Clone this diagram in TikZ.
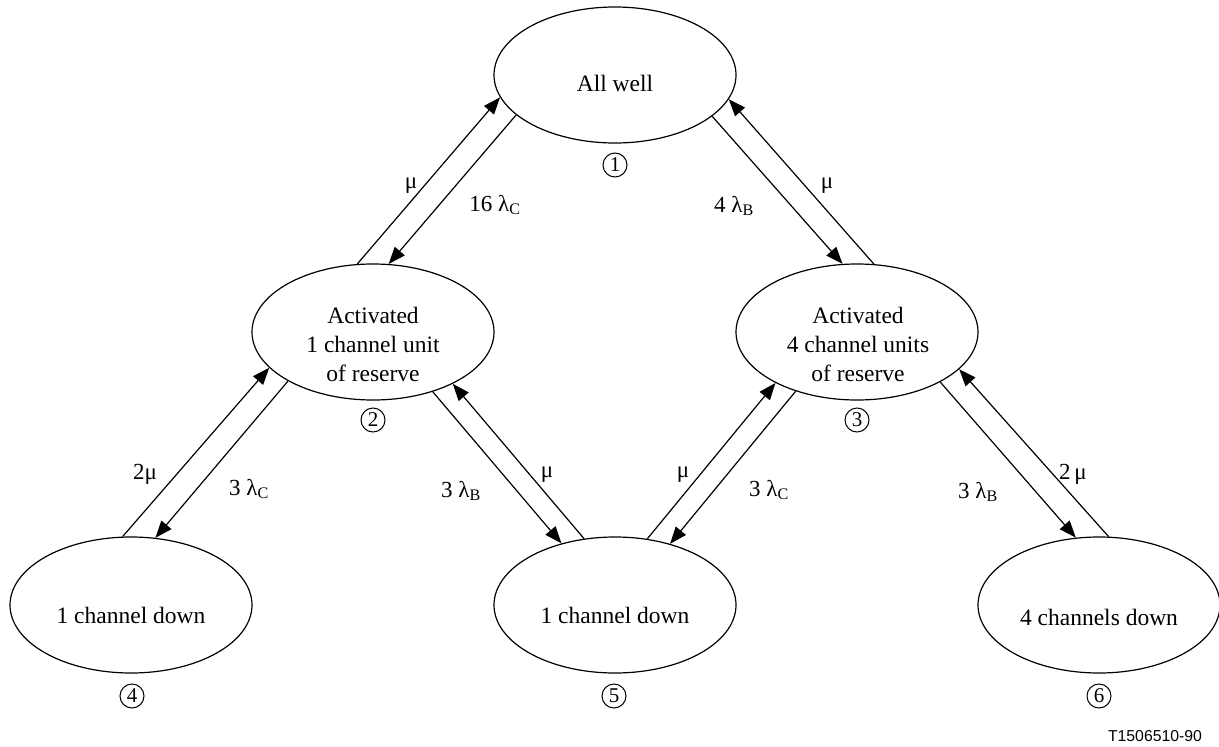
\documentclass[tikz,border=0pt]{standalone}
\usepackage{fontspec}
\setmainfont{Liberation Serif}
\newfontfamily\codefont{Liberation Sans}
\usetikzlibrary{arrows.meta,shapes.geometric}

\begin{document}
\begin{tikzpicture}[x=1pt,y=-1pt,
  state/.style={ellipse, draw, line width=1.2pt, minimum width=242pt, minimum height=136pt, inner sep=0pt},
  stext/.style={align=center, inner sep=0pt, font=\fontsize{23.5pt}{29pt}\selectfont},
  num/.style={circle, draw, line width=1pt, minimum size=24pt, inner sep=0pt, font=\fontsize{21pt}{21pt}\selectfont},
  rate/.style={inner sep=0pt, font=\fontsize{23pt}{23pt}\selectfont},
  arr/.style={line width=1.2pt, -{Triangle[length=17pt,width=13pt]}}
]
\useasboundingbox (0,0) rectangle (1219,747);

% states
\node[state] (s1) at (615,75) {};
\node[state] (s2) at (373,332) {};
\node[state] (s3) at (857,332) {};
\node[state] (s4) at (131,605) {};
\node[state] (s5) at (615,605) {};
\node[state] (s6) at (1099,605) {};

% state texts
\node[stext] (t1) at (615,83) {All well};
\node[stext] (t2) at (373,344) {Activated\\1 channel unit\\of reserve};
\node[stext] (t3) at (858,344) {Activated\\4 channel units\\of reserve};
\node[stext] (t4) at (131,615) {1 channel down};
\node[stext] (t5) at (615,615) {1 channel down};
\node[stext] (t6) at (1099,617) {4 channels down};

% state numbers
\node[num] (n1) at (615,165) {1};
\node[num] (n2) at (373,420) {2};
\node[num] (n3) at (857,420) {3};
\node[num] (n4) at (132,696) {4};
\node[num] (n5) at (614,696) {5};
\node[num] (n6) at (1099,696) {6};

% transitions
\draw[arr] (s2.103.2) -- (s1.191.6);
\draw[arr] (s1.202.3) -- (s2.77.6);
\draw[arr] (s1.337.7) -- (s3.102.4);
\draw[arr] (s3.76.8) -- (s1.348.4);
\draw[arr] (s4.97.5) -- (s2.199.3);
\draw[arr] (s2.210.5) -- (s4.70.6);
\draw[arr] (s2.315.5) -- (s5.131.8);
\draw[arr] (s5.115.5) -- (s2.327.6);
\draw[arr] (s5.64.5) -- (s3.212.4);
\draw[arr] (s3.224.5) -- (s5.48.2);
\draw[arr] (s3.329.5) -- (s6.109.4);
\draw[arr] (s6.82.5) -- (s3.340.7);

% rates
\node[rate] (r12) at (411,186) {μ};
\node[rate] (r21) at (495,205) {16 λ\textsubscript{C}};
\node[rate] (r13) at (734,206) {4 λ\textsubscript{B}};
\node[rate] (r31) at (827,186) {μ};
\node[rate] (r42) at (145,474) {2μ};
\node[rate] (r24) at (249,489) {3 λ\textsubscript{C}};
\node[rate] (r25) at (461,491) {3 λ\textsubscript{B}};
\node[rate] (r52) at (547,475) {μ};
\node[rate] (r53) at (683,475) {μ};
\node[rate] (r35) at (769,490) {3 λ\textsubscript{C}};
\node[rate] (r36) at (978,492) {3 λ\textsubscript{B}};
\node[rate] (r63) at (1073,474) {2\,μ};

% figure code
\node[inner sep=0pt, font=\codefont\fontsize{15.8pt}{16pt}\selectfont] (code) at (1155,736) {T1506510-90};
\end{tikzpicture}
\end{document}
